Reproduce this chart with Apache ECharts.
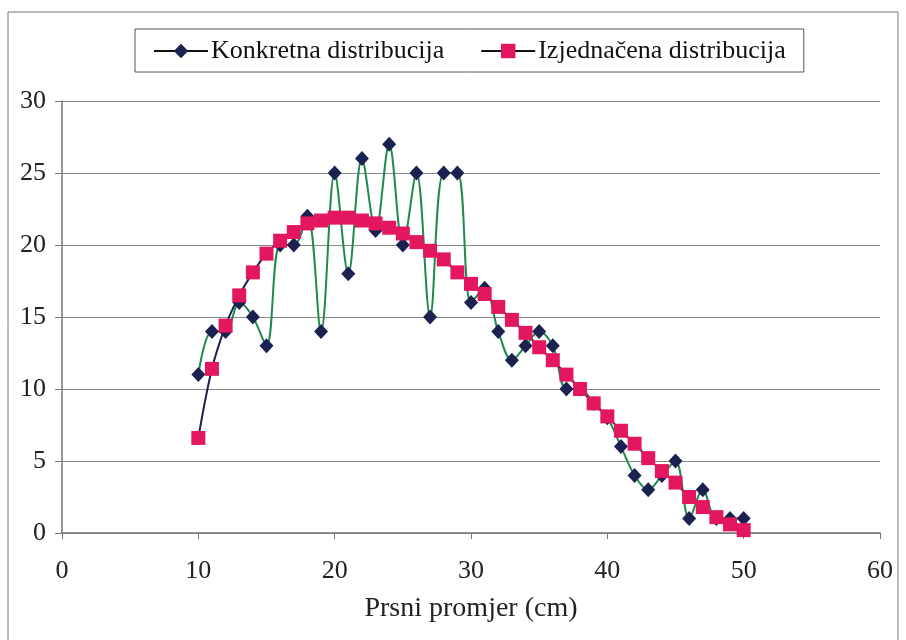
<!DOCTYPE html>
<html><head><meta charset="utf-8">
<script src="https://cdn.jsdelivr.net/npm/echarts@6/dist/echarts.min.js"></script>
<style>html,body{margin:0;padding:0;background:#fff}#c{width:906px;height:640px}</style>
</head><body><div id="c"></div>
<script>
const xValues = [10,11,12,13,14,15,16,17,18,19,20,21,22,23,24,25,26,27,28,29,30,31,32,33,34,35,36,37,38,39,40,41,42,43,44,45,46,47,48,49,50];
const konkretna = [11,14,14,16,15,13,20,20,22,14,25,18,26,21,27,20,25,15,25,25,16,17,14,12,13,14,13,10,10,9,8,6,4,3,4,5,1,3,1,1,1];
const izjednacena = [6.6,11.4,14.4,16.5,18.1,19.4,20.3,20.9,21.5,21.7,21.9,21.9,21.7,21.5,21.2,20.8,20.2,19.6,19.0,18.1,17.3,16.6,15.7,14.8,13.9,12.9,12.0,11.0,10.0,9.0,8.1,7.1,6.2,5.2,4.3,3.5,2.5,1.8,1.1,0.6,0.2];
const seriesNames = ['Konkretna distribucija','Izjednačena distribucija'];
const xAxisName = 'Prsni promjer (cm)';

const font = 'Liberation Serif, Times New Roman, serif';
const chart = echarts.init(document.getElementById('c'), null, {renderer:'canvas'});
const pair = (xs, ys) => xs.map((x,i)=>[x, ys[i]]);
chart.setOption({
  backgroundColor:'#fff',
  animation:false,
  graphic:[{type:'rect', shape:{x:8,y:12,width:890,height:640}, style:{fill:'none', stroke:'#777', lineWidth:1}, silent:true}],
  grid:{left:62, right:26, top:101, bottom:107},
  legend:{
    top:29, left:135, itemGap:36, itemWidth:54, itemHeight:18,
    padding:[9,18,8,18],
    borderColor:'#555', borderWidth:1,
    textStyle:{fontFamily:font, fontSize:26, color:'#111', padding:[0,0,0,-2]},
    lineStyle:{color:'#111', width:2},
    data:seriesNames
  },
  xAxis:{
    type:'value', min:0, max:60, interval:10,
    name:xAxisName, nameLocation:'middle', nameGap:62,
    nameTextStyle:{fontFamily:font, fontSize:28, color:'#222'},
    axisLine:{show:true, onZero:false, lineStyle:{color:'#777', width:1.5}},
    axisTick:{show:true, inside:false, length:6, lineStyle:{color:'#777'}},
    axisLabel:{fontFamily:font, fontSize:26, color:'#222', margin:25},
    splitLine:{show:false}
  },
  yAxis:{
    type:'value', min:0, max:30, interval:5,
    axisLine:{show:true, lineStyle:{color:'#777', width:1.5}},
    axisTick:{show:true, length:7, lineStyle:{color:'#777'}},
    axisLabel:{fontFamily:font, fontSize:26, color:'#222', margin:16},
    splitLine:{show:true, lineStyle:{color:'#888', width:1.2}}
  },
  series:[
    {name:seriesNames[0], type:'line', smooth:0.35, data:pair(xValues,konkretna),
     symbol:'diamond', symbolSize:[14,15], z:2,
     itemStyle:{color:'#1b2150', borderWidth:0},
     lineStyle:{color:'#1f8a4c', width:2}},
    {name:seriesNames[1], type:'line', smooth:0.35, data:pair(xValues,izjednacena),
     symbol:'rect', symbolSize:14, z:3,
     itemStyle:{color:'#e3175f', borderWidth:0},
     lineStyle:{color:'#1b2150', width:2}}
  ]
});
</script></body></html>
